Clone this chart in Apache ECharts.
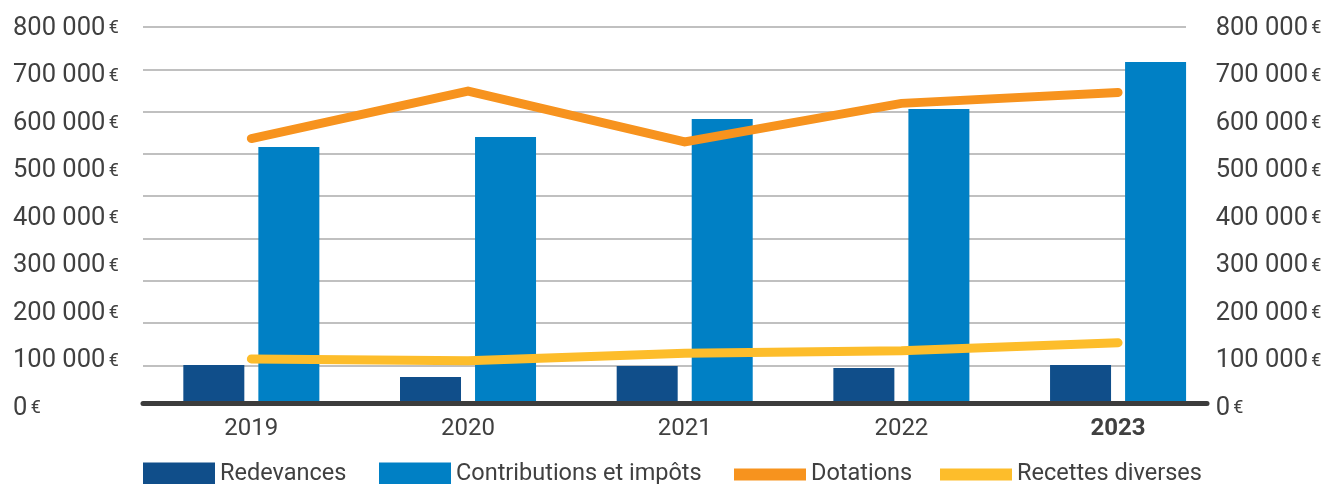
<!DOCTYPE html>
<html>
<head>
<meta charset="utf-8">
<script src="https://cdn.jsdelivr.net/npm/echarts@6/dist/echarts.min.js"></script>
<style>
html,body{margin:0;padding:0;background:#fff;}
#chart{width:1327px;height:484px;}
</style>
</head>
<body>
<div id="chart"></div>
<script>
// ---- data ----
const years = ['2019', '2020', '2021', '2022', '2023'];
const highlightYear = '2023';
const redevances = [84000, 59000, 82000, 78000, 84000];
const contributions = [543000, 564000, 602000, 623000, 722000];
const dotations = [561000, 661000, 554000, 635000, 658000];
const recettesDiverses = [97000, 93000, 109000, 114000, 131000];
const seriesNames = ['Redevances', 'Contributions et impôts', 'Dotations', 'Recettes diverses'];
const yMin = 0, yMax = 800000, yStep = 100000;

// ---- styling ----
const FONT = 'Roboto, "Noto Sans", sans-serif';
const TXT = '#404040';
const C_RED = '#104e8a';
const C_CON = '#0080c5';
const C_DOT = '#f7931e';
const C_REC = '#fdbd2b';

function fmtEuro(v) {
  const s = String(Math.round(v)).replace(/\B(?=(\d{3})+(?!\d))/g, ' ');
  return '{n|' + s + '} {e|€}';
}
const yLabelRich = {
  n: { fontSize: 25.5, color: TXT, fontFamily: FONT },
  e: { fontSize: 18, color: TXT, fontFamily: FONT }
};

const chart = echarts.init(document.getElementById('chart'), null, { renderer: 'canvas' });
const legendBase = {
  orient: 'horizontal', padding: 0, icon: 'rect', itemWidth: 72, selectedMode: false, top: 460.5,
  textStyle: { fontSize: 23.5, lineHeight: 24, color: TXT, fontFamily: FONT, padding: [4, 0, 0, 0] }
};
chart.setOption({
  animation: false,
  backgroundColor: '#ffffff',
  grid: [
    { left: 143, right: 100.6, top: 25, bottom: 79 },
    { left: 143, right: 141, top: 27, height: 338.4 },
    { left: 143, right: 120, top: 25, bottom: 79 }
  ],
  legend: [
    Object.assign({}, legendBase, { data: [seriesNames[0]], left: 143, itemHeight: 24 }),
    Object.assign({}, legendBase, { data: [seriesNames[1]], left: 379, itemHeight: 24 }),
    Object.assign({}, legendBase, { data: [seriesNames[2]], left: 734, itemHeight: 12 }),
    Object.assign({}, legendBase, { data: [seriesNames[3]], left: 940, itemHeight: 12 })
  ],
  xAxis: [
    {
      gridIndex: 0, type: 'category',
      data: years.map(y => y === highlightYear ? { value: y, textStyle: { fontWeight: 'bold' } } : y),
      axisLine: { show: false }, axisTick: { show: false },
      axisLabel: { fontSize: 24, color: TXT, fontFamily: FONT, margin: 12 }
    },
    { gridIndex: 1, type: 'value', show: false },
    {
      gridIndex: 2, type: 'value', min: 0, max: 1, z: 10, offset: -1.5,
      axisLine: { show: true, onZero: false, lineStyle: { color: '#3c3c3c', width: 5 } },
      axisTick: { show: false }, axisLabel: { show: false }, splitLine: { show: false }
    }
  ],
  yAxis: [
    { gridIndex: 0, type: 'value', min: yMin, max: yMax, interval: yStep, show: false },
    {
      gridIndex: 1, type: 'value', min: 0, max: 8, interval: 1,
      axisLine: { show: false }, axisTick: { show: false }, axisLabel: { show: false },
      splitLine: { show: true, lineStyle: { color: '#ababab', width: 1.5 } }
    },
    {
      gridIndex: 2, type: 'value', position: 'left', min: yMin, max: yMax, interval: yStep,
      axisLine: { show: false }, axisTick: { show: false }, splitLine: { show: false },
      axisLabel: { formatter: fmtEuro, rich: yLabelRich, align: 'left', margin: 130, padding: [7, 0, 0, 0] }
    },
    {
      gridIndex: 2, type: 'value', position: 'right', min: yMin, max: yMax, interval: yStep,
      axisLine: { show: false }, axisTick: { show: false }, splitLine: { show: false },
      axisLabel: { formatter: fmtEuro, rich: yLabelRich, align: 'left', margin: 8.7, padding: [7, 0, 0, 0] }
    }
  ],
  series: [
    {
      name: seriesNames[0], type: 'bar', xAxisIndex: 0, yAxisIndex: 0, data: redevances,
      barWidth: 61, barGap: '23%', itemStyle: { color: C_RED }
    },
    {
      name: seriesNames[1], type: 'bar', xAxisIndex: 0, yAxisIndex: 0, data: contributions,
      barWidth: 61, barGap: '23%', itemStyle: { color: C_CON }
    },
    {
      name: seriesNames[2], type: 'line', xAxisIndex: 0, yAxisIndex: 0, data: dotations,
      symbol: 'none', z: 4, itemStyle: { color: C_DOT },
      lineStyle: { color: C_DOT, width: 9, cap: 'round', join: 'miter' }
    },
    {
      name: seriesNames[3], type: 'line', xAxisIndex: 0, yAxisIndex: 0, data: recettesDiverses,
      symbol: 'none', z: 4, itemStyle: { color: C_REC },
      lineStyle: { color: C_REC, width: 9, cap: 'round', join: 'miter' }
    }
  ]
});
</script>
</body>
</html>
